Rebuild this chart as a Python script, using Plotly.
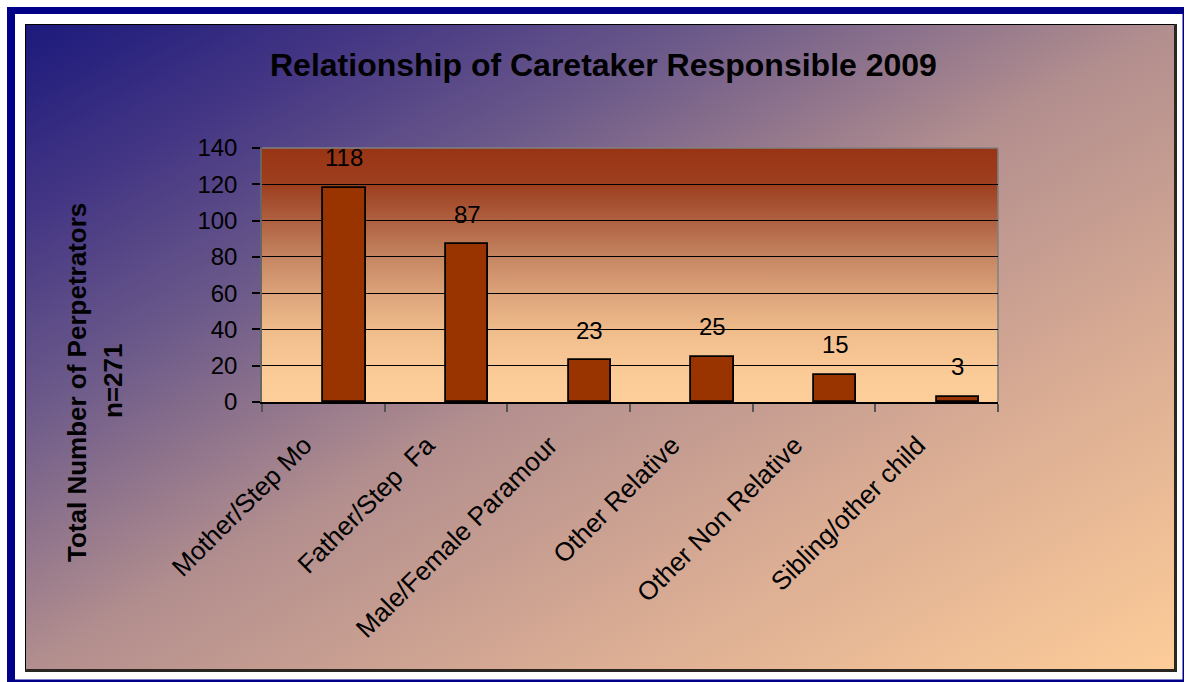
import base64
import plotly.graph_objects as go

# ---------------- data ----------------
categories = ["Mother/Step Mo", "Father/Step\u00a0 Fa", "Male/Female Paramour",
              "Other Relative", "Other Non Relative", "Sibling/other child"]
values = [118, 87, 23, 25, 15, 3]
y_ticks = [0, 20, 40, 60, 80, 100, 120, 140]
title_text = "Relationship of Caretaker Responsible 2009"
y_title_line1 = "Total Number of Perpetrators"
y_title_line2 = "n=271"

# ---------------- layout geometry (pixels) ----------------
W, H = 1188, 682
PL, PR, PT, PB = 262, 998, 148, 402   # plot area edges
PW, PH = PR - PL, PB - PT


def px(x):
    return (x - PL) / PW


def py(y):
    return (PB - y) / PH


FONT = "Liberation Sans, Arial, sans-serif"


def svg_uri(svg):
    return "data:image/svg+xml;base64," + base64.b64encode(svg.encode()).decode()


# full-figure background: navy frame, white gap, diagonal gradient chart area
bg_svg = f"""<svg xmlns='http://www.w3.org/2000/svg' width='{W}' height='{H}' viewBox='0 0 {W} {H}' preserveAspectRatio='none'>
<defs><linearGradient id='g' x1='0' y1='0' x2='1' y2='1'>
<stop offset='0' stop-color='#1c1a7c'/>
<stop offset='0.15' stop-color='#443684'/>
<stop offset='0.3' stop-color='#6c5a8a'/>
<stop offset='0.5' stop-color='#b28e8e'/>
<stop offset='0.75' stop-color='#dcae94'/>
<stop offset='1' stop-color='#fdcc99'/>
</linearGradient></defs>
<rect x='7' y='7' width='1177' height='675' fill='#000088'/>
<rect x='15' y='14' width='1167.5' height='665.5' fill='#ffffff'/>
<rect x='25' y='24' width='1152' height='648' fill='#2a2622'/>
<rect x='25' y='24' width='1149' height='645' fill='#000000'/>
<rect x='26' y='25' width='1148' height='644' fill='url(#g)'/>
</svg>"""

plot_svg = """<svg xmlns='http://www.w3.org/2000/svg' width='736' height='254' viewBox='0 0 736 254' preserveAspectRatio='none'>
<defs><linearGradient id='p' x1='0' y1='0' x2='0' y2='1'>
<stop offset='0' stop-color='#983414'/>
<stop offset='0.15' stop-color='#9e4020'/>
<stop offset='0.3' stop-color='#b06444'/>
<stop offset='0.45' stop-color='#c98a66'/>
<stop offset='0.6' stop-color='#e0a87e'/>
<stop offset='0.75' stop-color='#f2c08e'/>
<stop offset='0.9' stop-color='#fbcb98'/>
<stop offset='1' stop-color='#fdcd9a'/>
</linearGradient></defs>
<rect x='0' y='0' width='736' height='254' fill='url(#p)'/>
</svg>"""

fig = go.Figure()
fig.add_trace(go.Bar(
    x=categories, y=values,
    width=0.346, offset=0,
    marker=dict(color="#993300", line=dict(color="#000000", width=1.8)),
    showlegend=False, hoverinfo="x+y",
))

annotations = []
for c, v in zip(categories, values):
    annotations.append(dict(
        x=c, y=v, xref="x", yref="y", text=str(v), showarrow=False,
        xshift=21, yshift=30, yanchor="middle", xanchor="center",
        font=dict(family=FONT, size=24, color="#000000"),
    ))

annotations.append(dict(
    x=px(603.5), y=py(65), xref="paper", yref="paper", text="<b>" + title_text + "</b>",
    showarrow=False, xanchor="center", yanchor="middle",
    font=dict(family=FONT, size=32, color="#000000"),
))
annotations.append(dict(
    x=px(77), y=py(383), xref="paper", yref="paper", text="<b>" + y_title_line1 + "</b>",
    showarrow=False, xanchor="center", yanchor="middle", textangle=-90,
    font=dict(family=FONT, size=26, color="#000000"),
))
annotations.append(dict(
    x=px(113), y=py(381), xref="paper", yref="paper", text="<b>" + y_title_line2 + "</b>",
    showarrow=False, xanchor="center", yanchor="middle", textangle=-90,
    font=dict(family=FONT, size=26, color="#000000"),
))

images = [
    dict(source=svg_uri(bg_svg), xref="paper", yref="paper",
         x=px(0), y=py(0), sizex=W / PW, sizey=H / PH,
         xanchor="left", yanchor="top", sizing="stretch", layer="below"),
    dict(source=svg_uri(plot_svg), xref="paper", yref="paper",
         x=0, y=1, sizex=1, sizey=1,
         xanchor="left", yanchor="top", sizing="stretch", layer="below"),
]

shapes = [
    dict(type="line", xref="paper", yref="paper", x0=0, x1=1, y0=1, y1=1,
         line=dict(color="#808080", width=1.5), layer="below"),
    dict(type="line", xref="paper", yref="paper", x0=1, x1=1, y0=0, y1=1,
         line=dict(color="#808080", width=1.5), layer="below"),
]

fig.update_layout(
    width=W, height=H,
    margin=dict(l=PL, r=W - PR, t=PT, b=H - PB, pad=0),
    paper_bgcolor="#ffffff",
    plot_bgcolor="rgba(0,0,0,0)",
    font=dict(family=FONT, size=24, color="#000000"),
    showlegend=False,
    annotations=annotations,
    images=images,
    shapes=shapes,
    bargap=0,
)
fig.update_xaxes(
    type="category", tickson="boundaries", ticks="outside", ticklen=8,
    tickcolor="#555555", tickwidth=1.5, showline=True, linecolor="#000000",
    linewidth=1.5, showgrid=False, tickangle=-45,
    ticklabelstandoff=16, ticklabelshift=-19,
    tickfont=dict(family=FONT, size=26, color="#000000"),
    range=[-0.5, len(categories) - 0.5], fixedrange=True,
)
fig.update_yaxes(
    range=[0, 140], tickvals=y_ticks, ticks="outside", ticklen=8,
    tickcolor="#000000", tickwidth=1.5, showline=True, linecolor="#666666",
    linewidth=1.5, showgrid=True, gridcolor="#000000", gridwidth=1,
    zeroline=False, ticklabelstandoff=10,
    tickfont=dict(family=FONT, size=24, color="#000000"), fixedrange=True,
)

fig.write_html("out.html", config={"displayModeBar": False},
               post_script="document.body.style.margin='0';")
